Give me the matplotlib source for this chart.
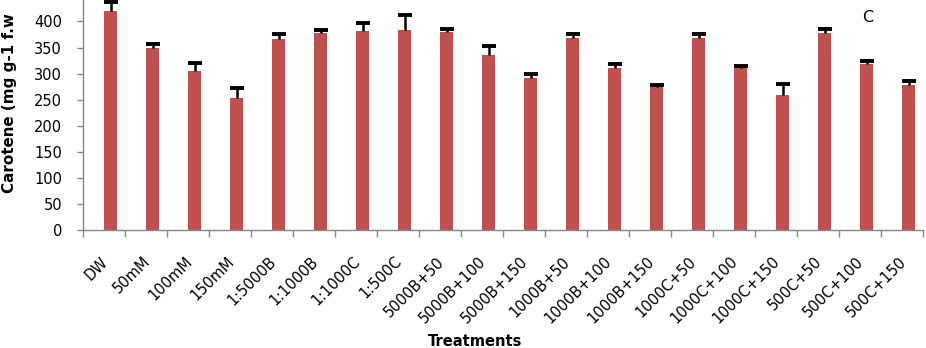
import matplotlib
matplotlib.use("Agg")
import matplotlib.pyplot as plt
import matplotlib.transforms as mtransforms
import numpy as np

categories = ["DW", "50mM", "100mM", "150mM", "1:5000B", "1:1000B", "1:1000C", "1:500C",
              "5000B+50", "5000B+100", "5000B+150", "1000B+50", "1000B+100", "1000B+150",
              "1000C+50", "1000C+100", "1000C+150", "500C+50", "500C+100", "500C+150"]
values = [420, 350, 305, 253, 367, 378, 382, 384, 379, 336, 291, 369, 310, 275,
          369, 310, 259, 377, 318, 279]
errors = [17, 6, 16, 20, 8, 6, 15, 28, 6, 16, 8, 7, 8, 3, 7, 5, 22, 8, 6, 7]
yticks = [0, 50, 100, 150, 200, 250, 300, 350, 400]

plt.rcParams['font.family'] = ['DejaVu Sans']
FS = 10.5

W, H = 926, 348
fig = plt.figure(figsize=(W / 100, H / 100), dpi=100)
left, right, bottom, top = 83, 923, 230, -4.6
ax = fig.add_axes([left / W, (H - bottom) / H, (right - left) / W, (bottom - top) / H])

x = np.arange(len(categories))
off = 0.155
vals = np.array(values)
errs = np.array(errors)
ax.bar(x + off, vals, width=0.29, color='#C0504D', zorder=2)
ax.vlines(x + off, vals, vals + errs, color='black', linewidth=1.8, zorder=3)
ax.plot(x + off, vals + errs, linestyle='none', marker='_', markersize=10.5,
        markeredgewidth=2.8, color='black', zorder=3)

ax.set_xlim(-0.5, len(categories) - 0.5)
ax.set_ylim(0, 450)
ax.set_yticks(yticks)
ax.set_yticklabels([str(v) for v in yticks], fontsize=FS)
ax.tick_params(axis='y', length=4, width=1, color='#868686', pad=11)

ax.set_xticks(x + off)
ax.set_xticklabels(categories, fontsize=FS, rotation=45, ha='right', va='center',
                   rotation_mode='anchor')
ax.tick_params(axis='x', which='major', length=0, pad=21)
shift = mtransforms.ScaledTranslation(-0.05, 0, fig.dpi_scale_trans)
for lab in ax.get_xticklabels():
    lab.set_transform(lab.get_transform() + shift)
ax.set_xticks(np.arange(-0.5, len(categories)), minor=True)
ax.tick_params(axis='x', which='minor', length=5, width=1, color='#868686')

for s in ['top', 'right']:
    ax.spines[s].set_visible(False)
for s in ['left', 'bottom']:
    ax.spines[s].set_color('#868686')
    ax.spines[s].set_linewidth(1)

fig.text(475 / W, 1 - 341 / H, "Treatments", fontsize=FS, fontweight='bold',
         ha='center', va='center')
fig.text(10 / W, 1 - 193 / H, "Carotene (mg g-1 f.w", fontsize=10.9, fontweight='bold',
         rotation=90, ha='center', va='bottom')
fig.text(868 / W, 1 - 17 / H, "C", fontsize=FS + 1, ha='center', va='center')

fig.savefig("out.png", dpi=100)
